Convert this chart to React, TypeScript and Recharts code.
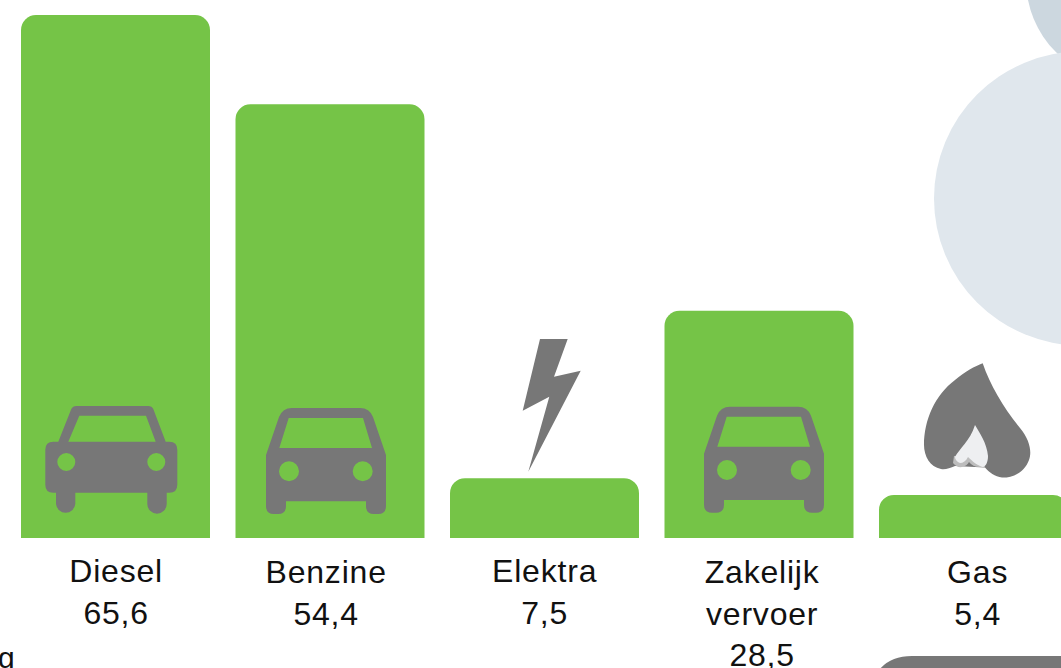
import React from 'react';
import { BarChart, Bar, XAxis, YAxis } from 'recharts';

const categories = ['Diesel', 'Benzine', 'Elektra', 'Zakelijk vervoer', 'Gas'];
const values = [65.6, 54.4, 7.5, 28.5, 5.4];
const valueLabels = ['65,6', '54,4', '7,5', '28,5', '5,4'];
const iconKinds = ['carWide', 'carTall', 'bolt', 'carTall', 'flame'];

const tableRows = categories.map((name, i) => ({ name, value: values[i], label: valueLabels[i], icon: iconKinds[i] }));

const GREEN = '#75c447';
const GREY = '#777777';
const FONT = '"Liberation Sans", Arial, sans-serif';
const labelNudge = [0.9, -3.6, 0.4, 3.4, 4.4];
const labelDrop = [38, 39, 38, 39, 39];

const carWide = 'M8 35.7H13L26 3Q27.5 0 31 0H103Q106.5 0 108 3L120.4 35.7H124Q132 35.7 132 43.7V78.7Q132 86.7 124 86.7H121.4V98A9.7 9.7 0 0 1 102 98V86.7H30V98A9.7 9.7 0 0 1 10.7 98V86.7H8Q0 86.7 0 78.7V43.7Q0 35.7 8 35.7Z' +
  'M34 9.7H100.7L110.4 35.7H23Z' +
  'M12 56a9 9 0 1 0 18 0a9 9 0 1 0 -18 0Z' +
  'M102 56a9 9 0 1 0 18 0a9 9 0 1 0 -18 0Z';
const carTall = 'M0 47L13 9Q16.5 0 26 0H94Q103.5 0 107 9L120 47V98Q120 106 112 106H108Q100 106 100 98V93.3H20V98Q20 106 12 106H8Q0 106 0 98Z' +
  'M22.7 10H97L106 40H13.3Z' +
  'M13 63.3a10 10 0 1 0 20 0a10 10 0 1 0 -20 0Z' +
  'M86.7 63.3a10 10 0 1 0 20 0a10 10 0 1 0 -20 0Z';
const bolt = 'M90 -199H117.7L104 -161.3L130.7 -167.3L78.3 -66.3L99.3 -141.3L72.7 -127.3Z';
const flameOuter = 'M103.7 -174.7C111 -153 126 -128 141 -110C151 -98 153 -86 150 -78C145 -64 131 -60 123 -60.5C116 -61 110 -66 106 -70.5L76 -72C71 -70 66 -68 62 -69C51 -71 45 -82 45 -93C45 -118 56 -143 76 -158C86 -166 96 -172 103.7 -174.7Z';
const flameBack = 'M75 -82L74 -75Q78 -70 83 -71Q88 -72 90 -76Q94 -71 100 -71L106 -71L100 -84Z';
const flameFront = 'M96 -113C100 -106 108 -95 109 -82C109 -76 107 -72 104 -71C99 -72 93 -77 89 -81C87 -77 84 -75 81 -75C78 -76 76 -79 76 -81C80 -89 91 -97 96 -113Z';

function BarWithIcon(props: any) {
  const { x, y, width, height, payload } = props;
  const r = 15;
  const bottom = y + height;
  const body = `M${x} ${bottom}V${y + r}A${r} ${r} 0 0 1 ${x + r} ${y}H${x + width - r}A${r} ${r} 0 0 1 ${x + width} ${y + r}V${bottom}Z`;
  const k = payload.icon;
  return (
    <g>
      <path d={body} fill={GREEN} />
      <g transform={`translate(${x} ${bottom})`}>
        {k === 'carWide' && <path transform="translate(24.3 -132)" d={carWide} fill={GREY} fillRule="evenodd" />}
        {k === 'carTall' && (
          <path transform={`translate(${payload.name === 'Benzine' ? 30.5 : 39.5} ${payload.name === 'Benzine' ? -130 : -131.3})`} d={carTall} fill={GREY} fillRule="evenodd" />
        )}
        {k === 'bolt' && <path d={bolt} fill={GREY} />}
        {k === 'flame' && (
          <g>
            <path d={flameOuter} fill={GREY} />
            <path d={flameBack} fill="#bdbdbd" />
            <path d={flameFront} fill="#eeeff1" />
          </g>
        )}
      </g>
    </g>
  );
}

function TickLabel(props: any) {
  const { x, y, payload, index } = props;
  const name: string = payload.value;
  const i = categories.indexOf(name);
  const idx = i >= 0 ? i : index;
  const lines = [...name.split(' '), valueLabels[idx]];
  return (
    <text x={x + labelNudge[idx]} y={y} textAnchor="middle" fontFamily={FONT} fontSize={32} letterSpacing={0.8} fill="#111111">
      {lines.map((l, n) => (
        <tspan key={n} x={x + labelNudge[idx]} y={y + labelDrop[idx] + n * 41.5}>
          {l}
        </tspan>
      ))}
    </text>
  );
}

export default function App() {
  return (
    <div style={{ position: 'absolute', left: 0, top: 0, width: 1061, height: 668, overflow: 'hidden', background: '#ffffff' }}>
      <svg width={1061} height={668} style={{ position: 'absolute', left: 0, top: 0 }}>
        <circle cx={1128} cy={-20} r={102} fill="#ccd7df" />
        <circle cx={1081} cy={198.5} r={147} fill="#e0e7ed" />
        <path d="M870 690Q878 656 912 656H1061V690Z" fill={GREY} />
        <text x={-2} y={668} fontFamily={FONT} fontSize={30} fill="#111111">g</text>
      </svg>
      <div style={{ position: 'absolute', left: 0, top: 0 }}>
        <BarChart
          width={1100}
          height={668}
          data={tableRows}
          margin={{ top: 15, right: 19.5, bottom: 0, left: 8 }}
          barCategoryGap={13}
        >
          <XAxis dataKey="name" axisLine={false} tickLine={false} height={130} interval={0} tick={TickLabel} tickMargin={0} />
          <YAxis hide domain={[0, 65.6]} />
          <Bar dataKey="value" isAnimationActive={false} shape={BarWithIcon} />
        </BarChart>
      </div>
    </div>
  );
}
